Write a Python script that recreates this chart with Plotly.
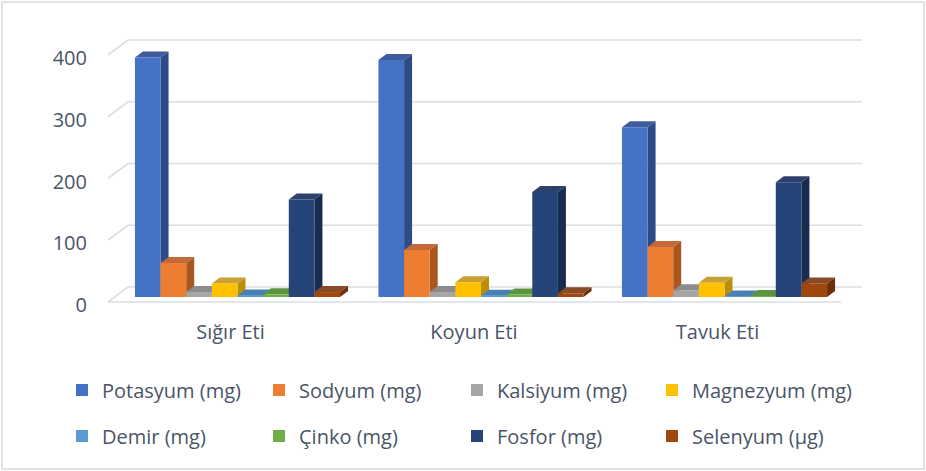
import plotly.graph_objects as go

# ---------------- data ----------------
categories = ["Sığır Eti", "Koyun Eti", "Tavuk Eti"]
series_names = ["Potasyum (mg)", "Sodyum (mg)", "Kalsiyum (mg)", "Magnezyum (mg)",
                "Demir (mg)", "Çinko (mg)", "Fosfor (mg)", "Selenyum (µg)"]
potasyum = [388, 384, 275]
sodyum = [55, 76, 81]
kalsiyum = [8, 8, 11]
magnezyum = [22, 24, 23]
demir = [2.6, 2.0, 1.0]
cinko = [4.3, 4.0, 1.5]
fosfor = [158, 170, 186]
selenyum = [8, 6, 22]
y_ticks = [0, 100, 200, 300, 400]

series_values = [potasyum, sodyum, kalsiyum, magnezyum, demir, cinko, fosfor, selenyum]

# ---------------- style ----------------
front_colors = ["#4472C4", "#ED7D31", "#A5A5A5", "#FFC000",
                "#5B9BD5", "#70AD47", "#264478", "#9E480E"]
top_colors = ["#3E5C9E", "#C46A3A", "#8C8C8C", "#C9A032",
              "#4A80B2", "#5C9440", "#2E406C", "#8A4A25"]
side_colors = ["#2E4B86", "#A9561F", "#7A7A7A", "#B98E0A",
               "#3F6E9A", "#4F7E32", "#182C52", "#6B300A"]
text_color = "#4a5568"
grid_color = "#dadfe6"
FONT = "Open Sans"

W, H = 926, 471
PL, PR, PT, PB = 100, 880, 20, 318          # plot area in pixels
X0_PX, X_UNIT = 237.5, 243.5                 # pixel of category 0, px per category
Y0_PX, Y_UNIT = 297.0, 0.6175                # pixel of value 0, px per value unit
BAR_PX = 25.64                               # bar width in px
DEPTH_PX = (8.0, 6.0)                        # bar depth projection (dx, dy) in px
FLOOR_FRONT_PX, FLOOR_BACK_PX = 5.0, 10.0    # floor depth in front/behind bars (vertical px)
LABEL_SHIFT_PX = 8.0                         # y tick labels sit on the front plane
LEGEND_COL_PX = [62, 259, 457, 652]          # legend column left edges
LEGEND_MID_PX = 413                          # vertical centre of the two legend rows


def px2x(px):
    return (px - X0_PX) / X_UNIT


def px2y(py):
    return (Y0_PX - py) / Y_UNIT


bar_w = BAR_PX / X_UNIT
ddx = DEPTH_PX[0] / X_UNIT
ddy = DEPTH_PX[1] / Y_UNIT
n = len(series_names)

fig = go.Figure()
shapes = []

# gridlines on back wall + slanted side-wall segments
back_dy = FLOOR_BACK_PX / Y_UNIT
front_dy = -FLOOR_FRONT_PX / Y_UNIT
xb0, xb1, xf0, xf1 = px2x(128), px2x(862), px2x(108), px2x(841)
for v in y_ticks:
    shapes.append(dict(type="line", xref="x", yref="y", x0=xb0, x1=xb1,
                       y0=v + back_dy, y1=v + back_dy,
                       line=dict(color=grid_color, width=1.6), layer="below"))
    shapes.append(dict(type="line", xref="x", yref="y", x0=xf0, x1=xb0,
                       y0=v + front_dy, y1=v + back_dy,
                       line=dict(color=grid_color, width=1.6), layer="below"))
shapes.append(dict(type="line", xref="x", yref="y", x0=xf0, x1=xf1,
                   y0=front_dy, y1=front_dy,
                   line=dict(color=grid_color, width=1.6), layer="below"))

# 3D faces (top and right side) built from the data values
for gi in range(len(categories)):
    for k, vals in enumerate(series_values):
        h = vals[gi]
        x0 = gi - n / 2 * bar_w + k * bar_w
        x1 = x0 + bar_w
        top = f"M{x0},{h} L{x1},{h} L{x1 + ddx},{h + ddy} L{x0 + ddx},{h + ddy} Z"
        side = f"M{x1},0 L{x1 + ddx},{ddy} L{x1 + ddx},{h + ddy} L{x1},{h} Z"
        shapes.append(dict(type="path", xref="x", yref="y", path=top,
                           fillcolor=top_colors[k], line=dict(width=0), layer="below"))
        shapes.append(dict(type="path", xref="x", yref="y", path=side,
                           fillcolor=side_colors[k], line=dict(width=0), layer="below"))

# front faces as real bars
legend_ids = ["legend", "legend2", "legend3", "legend4"]
for k, (name, vals) in enumerate(zip(series_names, series_values)):
    fig.add_trace(go.Bar(
        x=list(range(len(categories))), y=vals, name=name,
        width=bar_w, offset=-n / 2 * bar_w + k * bar_w,
        marker=dict(color=front_colors[k], line=dict(width=0)),
        legend=legend_ids[k % 4], legendgroup=name,
    ))

# outer chart border
pw, ph = PR - PL, PB - PT
shapes.append(dict(type="rect", xref="paper", yref="paper",
                   x0=(2 - PL) / pw, x1=(924 - PL) / pw,
                   y0=(PB - 469) / ph, y1=(PB - 2) / ph,
                   line=dict(color="#d9d9d9", width=1.5), fillcolor="rgba(0,0,0,0)",
                   layer="below"))

legends = {}
for li, lid in enumerate(legend_ids):
    legends[lid] = dict(orientation="v", xanchor="left", yanchor="middle",
                        x=(LEGEND_COL_PX[li] - PL) / pw, y=(PB - LEGEND_MID_PX) / ph,
                        tracegroupgap=17, traceorder="grouped",
                        font=dict(family=FONT, size=20, color=text_color),
                        bgcolor="rgba(0,0,0,0)", itemclick=False, itemdoubleclick=False)

fig.update_layout(
    width=W, height=H,
    margin=dict(l=PL, r=W - PR, t=PT, b=H - PB, pad=0),
    paper_bgcolor="white", plot_bgcolor="white",
    barmode="overlay",
    showlegend=True,
    shapes=shapes,
    font=dict(family=FONT, size=20, color=text_color),
    xaxis=dict(range=[px2x(PL), px2x(PR)], tickvals=[i - 7 / X_UNIT for i in range(len(categories))],
               ticktext=categories, showgrid=False, zeroline=False, showline=False,
               ticks="", tickfont=dict(family=FONT, size=20, color=text_color), fixedrange=True),
    yaxis=dict(range=[px2y(PB), px2y(PT)],
               tickvals=[v - LABEL_SHIFT_PX / Y_UNIT for v in y_ticks],
               ticktext=[str(v) for v in y_ticks], showgrid=False, zeroline=False,
               showline=False, ticks="", ticklabelstandoff=12,
               tickfont=dict(family=FONT, size=20, color=text_color), fixedrange=True),
    **legends,
)

fig.write_html("out.html")
